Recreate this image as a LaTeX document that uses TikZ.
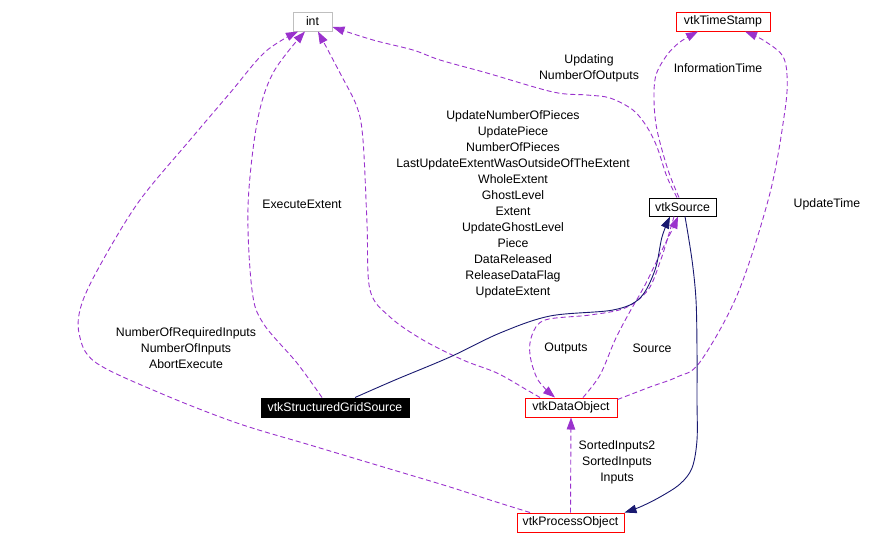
\documentclass[tikz,border=0pt]{standalone}
\usepackage{fontspec}
\setmainfont{Liberation Sans}
\usetikzlibrary{arrows.meta}
\definecolor{edgepurple}{HTML}{9A32CD}
\definecolor{inhnavy}{HTML}{191970}
\definecolor{boxgray}{HTML}{BFBFBF}
\definecolor{boxred}{HTML}{FF0000}
\begin{document}
\begin{tikzpicture}[x=1pt,y=-1pt,
  every node/.style={font=\fontsize{12.3}{16}\selectfont, inner sep=0pt},
  cls/.style={draw, line width=1pt, minimum height=19pt, anchor=center},
  lbl/.style={align=center},
  usage/.style={draw=edgepurple, line width=0.9pt, dash pattern=on 5pt off 3pt,
    -{Triangle[length=12pt,width=8.5pt]}},
  inherit/.style={draw=inhnavy, line width=0.9pt,
    -{Triangle[length=12pt,width=8.5pt]}},
  curve/.style={smooth, tension=0.55}]
\useasboundingbox (0,0) rectangle (877,544);

% classes
\node[cls, draw=boxgray, minimum width=39pt] (int) at (312.5,21.5) {int};
\node[cls, draw=boxred, minimum width=94pt] (ts) at (723,21.5) {vtkTimeStamp};
\node[cls, draw=black, minimum width=67pt, minimum height=18pt] (src) at (682.5,207) {vtkSource};
\node[cls, draw=black, fill=black, text=white, minimum width=148pt] (sgs) at (335,407.5) {vtkStructuredGridSource};
\node[cls, draw=boxred, minimum width=92pt] (do) at (571,407.5) {vtkDataObject};
\node[cls, draw=boxred, minimum width=107pt] (po) at (570.5,522.5) {vtkProcessObject};

% edges to int
\draw[usage] plot[curve] coordinates {([xshift=-40.5pt]po.north) (490,500) (450,487) (380,466) (310,445) (237,423) (160,393) (95,362) (79,333) (82,303) (103,260) (140,200) (190,140) (230,93) (265,52) ([xshift=-14.5pt]int.south)};
\draw[usage] plot[curve] coordinates {([xshift=-13pt]sgs.north) (297,363) (263,323) (252,290) (248,207) (257,123) (273,73) ([xshift=-7.5pt]int.south)};
\draw[usage] plot[curve] coordinates {([xshift=-31pt]do.north) (527,390) (497,373) (463,360) (423,340) (390,317) (370,290) (367,223) (363,140) (357,107) (340,73) ([xshift=5.5pt]int.south)};
\draw[usage] plot[curve] coordinates {([xshift=-5.5pt]src.north) (667,177) (657,147) (647,127) (633,110) (610,98) (587,95) (553,92) (487,73) (440,60) (413,50) (373,40) ([yshift=-5.5pt]int.east)};

% edges to vtkTimeStamp
\draw[usage] plot[curve] coordinates {([xshift=-3.5pt]src.north) (668,170) (657,130) (654,100) (656,75) (667,55) (680,42) ([xshift=-25pt]ts.south)};
\draw[usage] plot[curve] coordinates {([yshift=-2pt]do.north east) (650,387) (677,377) (700,362) (738,293) (770,193) (785,110) (787,75) (782,55) (763,40) ([xshift=22pt]ts.south)};

% vtkSource <-> vtkDataObject
\draw[usage] plot[curve] coordinates {([xshift=-8.5pt]src.south) (668,237) (660,262) (648,290) (625,308) (590,315) (545,320) (532,335) (530,355) (538,380) ([xshift=-16pt]do.north)};
\draw[usage] plot[curve] coordinates {([xshift=12pt]do.north) (600,375) (615,340) (628,315) (645,285) (662,250) (672,230) ([xshift=-4.5pt]src.south)};

% inheritance
\draw[inherit] plot[curve] coordinates {([xshift=20pt]sgs.north) (395,380) (450,357) (500,333) (550,316) (613,310) (640,298) (655,270) (662,237) ([xshift=-12.5pt]src.south)};
\draw[inherit] plot[curve] coordinates {([xshift=2.5pt]src.south) (692,260) (696,300) (697,350) (697,400) (697,440) (692,468) (680,484) (660,497) (640,507) (po.north east)};

% inputs
\draw[usage] (po.north) -- (do.south);

% labels
\node[lbl] (l1) at (589,68) {Updating\\NumberOfOutputs};
\node[lbl] (l2) at (718,68) {InformationTime};
\node[lbl] (l3) at (513,204) {UpdateNumberOfPieces\\UpdatePiece\\NumberOfPieces\\LastUpdateExtentWasOutsideOfTheExtent\\WholeExtent\\GhostLevel\\Extent\\UpdateGhostLevel\\Piece\\DataReleased\\ReleaseDataFlag\\UpdateExtent};
\node[lbl] (l4) at (302,204) {ExecuteExtent};
\node[lbl] (l5) at (827,204) {UpdateTime};
\node[lbl] (l6) at (186,348) {NumberOfRequiredInputs\\NumberOfInputs\\AbortExecute};
\node[lbl] (l7) at (566,348) {Outputs};
\node[lbl] (l8) at (652,348) {Source};
\node[lbl] (l9) at (617,462) {SortedInputs2\\SortedInputs\\Inputs};
\end{tikzpicture}
\end{document}
